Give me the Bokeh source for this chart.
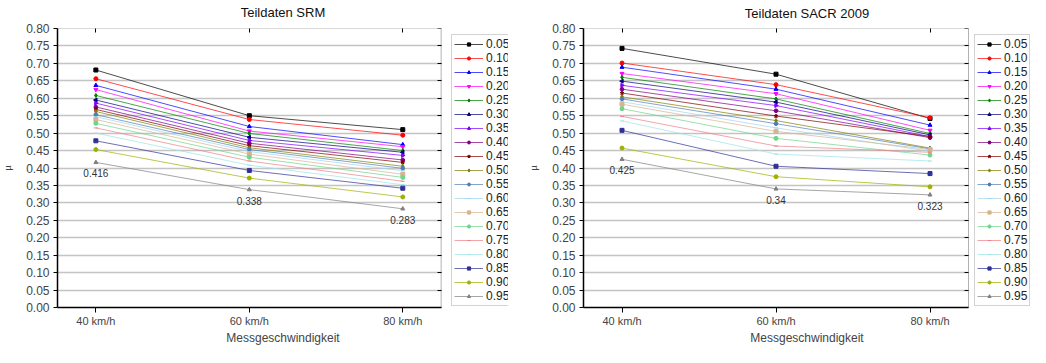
import math
from bokeh.plotting import figure
from bokeh.models import (Range1d, FixedTicker, LinearAxis, Legend, LegendItem,
                          PrintfTickFormatter, BoxAnnotation)
from bokeh.layouts import row
from bokeh.embed import file_html
from bokeh.resources import INLINE
from bokeh.core.properties import value

# ---------------- data ----------------
speeds = ["40 km/h", "60 km/h", "80 km/h"]
quantiles = ["0.05", "0.10", "0.15", "0.20", "0.25", "0.30", "0.35", "0.40", "0.45", "0.50",
             "0.55", "0.60", "0.65", "0.70", "0.75", "0.80", "0.85", "0.90", "0.95"]

srm_40 = [0.681, 0.656, 0.637, 0.625, 0.608, 0.595, 0.586, 0.575, 0.568, 0.562,
          0.553, 0.547, 0.539, 0.528, 0.515, 0.500, 0.478, 0.453, 0.416]
srm_60 = [0.550, 0.539, 0.519, 0.506, 0.499, 0.488, 0.479, 0.471, 0.464, 0.458,
          0.453, 0.447, 0.440, 0.431, 0.420, 0.408, 0.393, 0.371, 0.338]
srm_80 = [0.510, 0.494, 0.467, 0.461, 0.450, 0.445, 0.436, 0.423, 0.416, 0.405,
          0.399, 0.392, 0.382, 0.373, 0.362, 0.352, 0.342, 0.317, 0.283]

sacr_40 = [0.743, 0.701, 0.689, 0.671, 0.660, 0.649, 0.637, 0.626, 0.615, 0.604,
           0.598, 0.590, 0.583, 0.570, 0.548, 0.535, 0.508, 0.457, 0.425]
sacr_60 = [0.669, 0.639, 0.626, 0.613, 0.598, 0.589, 0.579, 0.564, 0.549, 0.536,
           0.527, 0.515, 0.505, 0.485, 0.463, 0.440, 0.405, 0.375, 0.340]
sacr_80 = [0.542, 0.544, 0.523, 0.508, 0.499, 0.495, 0.490, 0.487, 0.490, 0.457,
           0.455, 0.448, 0.453, 0.437, 0.445, 0.420, 0.384, 0.346, 0.323]

y_ticks = [0.00, 0.05, 0.10, 0.15, 0.20, 0.25, 0.30, 0.35, 0.40, 0.45, 0.50,
           0.55, 0.60, 0.65, 0.70, 0.75, 0.80]

# ---------------- styles ----------------
colors = ["#000000", "#FF0000", "#0000FF", "#FF00FF", "#008000", "#000080", "#8000FF",
          "#800080", "#800000", "#808000", "#4F7DB8", "#9FD4EE", "#D6B48E", "#6CD68A",
          "#EE7F86", "#9CE4E4", "#303098", "#A0B000", "#808080"]
markers = ["square", "circle", "triangle", "inverted_triangle", "diamond", "triangle",
           "triangle", "hex", "star", "diamond", "hex", "dash", "square", "circle",
           "dash", "dash", "square", "circle", "triangle"]
angles = [0, 0, 0, 0, 0, math.pi / 2, -math.pi / 2, 0, 0, 0, 0, 0, 0, 0, 0, 0, 0, 0, 0]
FONT = "Liberation Sans"
X0, X1 = -0.25, 2.25   # extent of the drawn plot box in category units


def make_panel(title, cols, width, height, b_left, b_top, b_bottom, px_per_cat,
               legend_px, legend_y, glyph_w, title_standoff):
    frame_w = width - b_left
    x_end = X0 + frame_w / px_per_cat
    p = figure(width=width, height=height, x_range=Range1d(X0, x_end),
               y_range=Range1d(0, 0.8), output_backend="svg", toolbar_location=None,
               min_border_left=b_left, min_border_right=0,
               min_border_top=b_top, min_border_bottom=b_bottom)
    p.outline_line_color = None
    p.background_fill_color = "white"

    xs = list(range(len(speeds)))
    p.xgrid.visible = False
    p.ygrid.ticker = FixedTicker(ticks=y_ticks)
    p.ygrid.grid_line_color = "#c4c4c4"
    p.ygrid.grid_line_width = 1.5
    try:
        p.ygrid.cross_bounds = (X0, X1)
    except Exception:
        p.ygrid.visible = False
        p.segment(x0=X0, x1=X1, y0=y_ticks, y1=y_ticks, line_color="#c4c4c4",
                  line_width=1.5)

    p.add_layout(BoxAnnotation(left=X0, right=X1, bottom=0, top=0.8, fill_alpha=0,
                               fill_color=None, line_color="#000000", line_width=1))

    xa = p.xaxis[0]
    xa.bounds = (X0, X1)
    xa.ticker = FixedTicker(ticks=xs)
    xa.major_label_overrides = {i: s for i, s in enumerate(speeds)}
    xa.major_tick_out = 5
    xa.major_tick_in = 0
    xa.minor_tick_line_color = None
    xa.axis_line_color = "#000000"
    xa.axis_line_width = 1.5
    xa.major_label_text_font = FONT
    xa.major_label_text_font_size = "11px"
    xa.major_label_standoff = 2
    xa.axis_label = "Messgeschwindigkeit"
    xa.axis_label_text_font = FONT
    xa.axis_label_text_font_style = "normal"
    xa.axis_label_text_font_size = "12px"
    xa.axis_label_standoff = 1

    ya = p.yaxis[0]
    ya.ticker = FixedTicker(ticks=y_ticks)
    ya.formatter = PrintfTickFormatter(format="%.2f")
    ya.major_tick_out = 4
    ya.major_tick_in = 0
    ya.minor_tick_line_color = None
    ya.axis_line_color = "#000000"
    ya.axis_line_width = 1.5
    ya.major_label_text_font = FONT
    ya.major_label_text_font_size = "12px"
    ya.major_label_standoff = 4
    ya.axis_label = "µ"
    ya.axis_label_text_font = FONT
    ya.axis_label_text_font_style = "normal"
    ya.axis_label_text_font_size = "9px"
    ya.axis_label_standoff = 10

    ra = LinearAxis(ticker=FixedTicker(ticks=y_ticks), fixed_location=X1,
                    major_tick_in=4, major_tick_out=0, minor_tick_line_color=None,
                    major_label_standoff=0,
                    major_label_overrides={t: "" for t in y_ticks},
                    axis_line_color=None)
    p.add_layout(ra, "right")

    ta = LinearAxis(ticker=FixedTicker(ticks=xs), bounds=(X0, X1), major_tick_in=4,
                    major_tick_out=0, minor_tick_line_color=None,
                    major_label_overrides={i: "" for i in xs}, major_label_standoff=0,
                    axis_line_color=None, axis_label=title,
                    axis_label_text_font=FONT, axis_label_text_font_style="normal",
                    axis_label_text_font_size="13px", axis_label_text_color="#111111",
                    axis_label_standoff=title_standoff)
    p.add_layout(ta, "above")

    items = []
    for i, q in enumerate(quantiles):
        ys = [c[i] for c in cols]
        r1 = p.line(xs, ys, line_color=colors[i], line_width=1, line_alpha=0.7)
        r2 = p.scatter(xs, ys, marker=markers[i], size=4, angle=angles[i],
                       fill_color=colors[i], line_color=colors[i])
        items.append(LegendItem(label=q, renderers=[r1, r2]))

    last = [c[-1] for c in cols]
    p.text(x=xs, y=last, text=[f"{v:g}" for v in last], text_font=value(FONT),
           text_font_size="10px", text_align="center", text_baseline="top",
           y_offset=7, text_color="#333333")

    legend = Legend(items=items, location=(legend_px, legend_y))
    legend.label_text_font = FONT
    legend.label_text_font_size = "12px"
    legend.label_text_color = "#222222"
    legend.glyph_width = glyph_w
    legend.glyph_height = 8
    legend.label_height = 14
    legend.label_standoff = 3
    legend.spacing = 0
    legend.padding = 2
    legend.margin = 0
    legend.border_line_color = "#a8a8a8"
    legend.border_line_width = 1
    legend.background_fill_color = "white"
    p.add_layout(legend, "center")
    return p


p1 = make_panel("Teildaten SRM", [srm_40, srm_60, srm_80], 508, 347, 51, 28, 34,
                155.5, 394, 1, 29, 9)
p2 = make_panel("Teildaten SACR 2009", [sacr_40, sacr_60, sacr_80], 522, 347, 75, 28, 34,
                154.0, 391, 1, 24, 8)

layout = row(p1, p2)
open("out.html", "w").write(file_html(layout, INLINE))
